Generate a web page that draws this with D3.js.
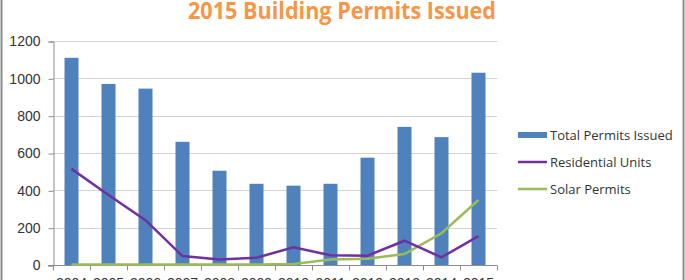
<!DOCTYPE html>
<html>
<head>
<meta charset="utf-8">
<script src="https://cdn.jsdelivr.net/npm/d3@7"></script>
<style>
body { margin: 0; background: #fff; }
svg { display: block; }
</style>
</head>
<body>
<script>
var years = ["2004","2005","2006","2007","2008","2009","2010","2011","2012","2013","2014","2015"];
var total_permits = [1110, 970, 945, 660, 505, 435, 425, 435, 575, 740, 685, 1030];
var residential_units = [515, 375, 240, 48, 30, 39, 95, 52, 50, 130, 41, 155];
var solar_permits = [3, 3, 3, 3, 3, 3, 5, 30, 34, 59, 170, 348];
var y_ticks = [0, 200, 400, 600, 800, 1000, 1200];
var legend_items = ["Total Permits Issued", "Residential Units", "Solar Permits"];

var width = 685, height = 280;

var svg = d3.select("body").append("svg")
  .attr("width", width)
  .attr("height", height);

// chart frame
svg.append("rect")
  .attr("x", 1.5).attr("y", -5)
  .attr("width", 682).attr("height", 300)
  .attr("fill", "white")
  .attr("stroke", "#8c8c8c")
  .attr("stroke-width", 2);

svg.append("text")
  .attr("x", 342)
  .attr("y", 19)
  .attr("text-anchor", "middle")
  .attr("font-family", "Open Sans")
  .attr("font-weight", 700)
  .attr("font-size", 23)
  .attr("textLength", 308)
  .attr("lengthAdjust", "spacingAndGlyphs")
  .attr("fill", "#F79646")
  .text("2015 Building Permits Issued");

var scale_x = d3.scaleBand().domain(years).range([53, 497]);
var scale_y = d3.scaleLinear().domain([0, 1200]).range([265, 41]);

// gridlines
svg.append("g").selectAll("line")
  .data(y_ticks.slice(1))
  .enter().append("line")
  .attr("x1", 53).attr("x2", 497)
  .attr("y1", function(d) { return Math.round(scale_y(d)) + 0.5; })
  .attr("y2", function(d) { return Math.round(scale_y(d)) + 0.5; })
  .attr("stroke", "#d4d4d4")
  .attr("stroke-width", 1);

var y_axis = svg.append("g")
  .attr("transform", "translate(53.5,0.5)")
  .call(d3.axisLeft(scale_y).tickValues(y_ticks).tickSize(5).tickPadding(8).tickFormat(d3.format("d")));
y_axis.selectAll("path, line").attr("stroke", "#8c8c8c");
y_axis.selectAll("text")
  .attr("font-family", "Liberation Sans")
  .attr("font-size", 14)
  .attr("fill", "#333");

var x_axis = svg.append("g")
  .attr("transform", "translate(0," + (Math.round(scale_y(0)) + 0.5) + ")");
x_axis.append("line")
  .attr("x1", 48).attr("x2", 497)
  .attr("stroke", "#8c8c8c");
x_axis.selectAll("line.tick")
  .data(d3.range(years.length + 1))
  .enter().append("line")
  .attr("class", "tick")
  .attr("x1", function(i) { return Math.round(53 + i * scale_x.step()) + 0.5; })
  .attr("x2", function(i) { return Math.round(53 + i * scale_x.step()) + 0.5; })
  .attr("y1", 0).attr("y2", 5)
  .attr("stroke", "#8c8c8c");
x_axis.selectAll("text")
  .data(years)
  .enter().append("text")
  .attr("x", function(d) { return scale_x(d) + scale_x.bandwidth() / 2; })
  .attr("y", 22)
  .attr("text-anchor", "middle")
  .attr("font-family", "Liberation Sans")
  .attr("font-size", 14)
  .attr("fill", "#333")
  .text(function(d) { return d; });

// bars
var bar_w = 14;
svg.append("g").selectAll("rect")
  .data(total_permits)
  .enter().append("rect")
  .attr("x", function(d, i) { return scale_x(years[i]) + scale_x.bandwidth() / 2 - bar_w / 2; })
  .attr("y", function(d) { return scale_y(d); })
  .attr("width", bar_w)
  .attr("height", function(d) { return scale_y(0) - scale_y(d); })
  .attr("fill", "#4F81BD");

var line_function = d3.line()
  .x(function(d, i) { return scale_x(years[i]) + scale_x.bandwidth() / 2; })
  .y(function(d) { return scale_y(d); });

svg.append("path")
  .attr("d", line_function(solar_permits))
  .attr("fill", "none")
  .attr("stroke", "#9BBB59")
  .attr("stroke-width", 2.5);

svg.append("path")
  .attr("d", line_function(residential_units))
  .attr("fill", "none")
  .attr("stroke", "#7030A0")
  .attr("stroke-width", 2.5);

// legend
var legend_y = [135, 162, 189];
var legend = svg.append("g");
legend.append("rect")
  .attr("x", 518).attr("y", legend_y[0] - 3)
  .attr("width", 29).attr("height", 6)
  .attr("fill", "#4F81BD");
legend.append("line")
  .attr("x1", 518).attr("x2", 547)
  .attr("y1", legend_y[1]).attr("y2", legend_y[1])
  .attr("stroke", "#7030A0").attr("stroke-width", 2.5);
legend.append("line")
  .attr("x1", 518).attr("x2", 547)
  .attr("y1", legend_y[2]).attr("y2", legend_y[2])
  .attr("stroke", "#9BBB59").attr("stroke-width", 2.5);
legend.selectAll("text")
  .data(legend_items)
  .enter().append("text")
  .attr("x", 550)
  .attr("y", function(d, i) { return legend_y[i] + 5; })
  .attr("font-family", "Open Sans")
  .attr("font-size", 13)
  .attr("fill", "#333")
  .text(function(d) { return d; });
</script>
</body>
</html>
